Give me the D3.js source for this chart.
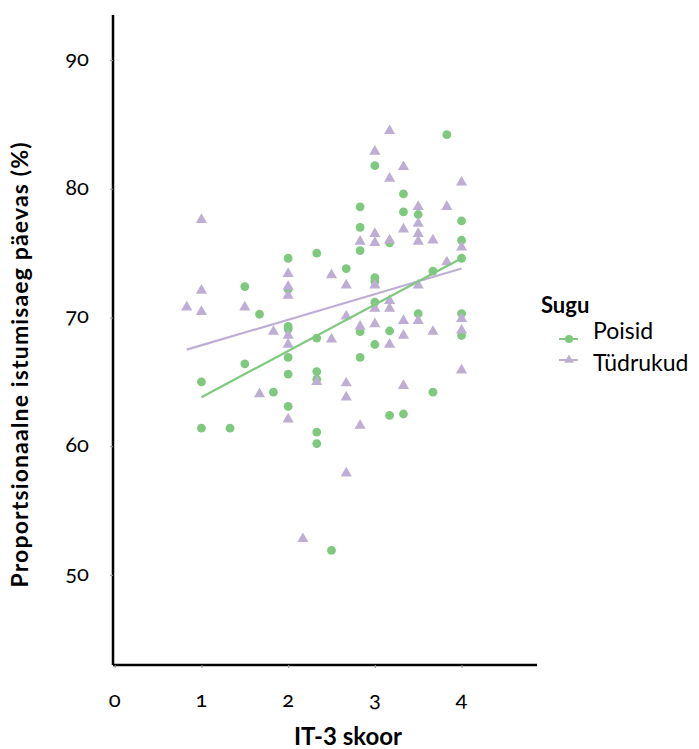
<!DOCTYPE html>
<html lang="et">
<head>
<meta charset="UTF-8">
<title>IT-3 skoor</title>
<script src="https://d3js.org/d3.v7.min.js"></script>
<style>
  body { margin: 0; background: #fff; }
  svg text { font-family: Lato, "Open Sans", sans-serif; fill: #000; }
  .tick-num { font-variant-numeric: oldstyle-nums; font-feature-settings: "onum" 1; }
</style>
</head>
<body>
<svg id="chart" width="699" height="749"></svg>
<script>
// IT-3 skoor (x) vs proportsionaalne istumisaeg (%)
const poisidX = [1, 1, 1.33, 1.5, 1.5, 1.67, 1.83,
  2, 2, 2, 2, 2, 2, 2,
  2.33, 2.33, 2.33, 2.33, 2.33, 2.33, 2.5, 2.67,
  2.83, 2.83, 2.83, 2.83, 2.83,
  3, 3, 3, 3, 3, 3.17, 3.17, 3.17, 3.33, 3.33, 3.33,
  3.5, 3.5, 3.67, 3.67, 3.83, 4, 4, 4, 4, 4];
const poisidY = [65.0, 61.4, 61.4, 72.4, 66.4, 70.25, 64.2,
  74.6, 72.2, 69.3, 69.1, 66.9, 65.6, 63.1,
  75.0, 68.4, 65.8, 65.2, 61.1, 60.2, 51.9, 73.8,
  78.6, 77.0, 75.2, 68.9, 66.9,
  81.8, 73.1, 72.8, 71.2, 67.9, 75.8, 68.95, 62.4, 79.6, 78.2, 62.5,
  78.0, 70.3, 73.6, 64.2, 84.2, 77.5, 76.0, 74.6, 70.3, 68.6];

const tudrukudX = [0.83, 1, 1, 1, 1.5, 1.67, 1.83,
  2, 2, 2, 2, 2, 2, 2.17, 2.33, 2.5, 2.5,
  2.67, 2.67, 2.67, 2.67, 2.67, 2.83, 2.83, 2.83,
  3, 3, 3, 3, 3, 3, 3.17, 3.17, 3.17, 3.17, 3.17, 3.17,
  3.33, 3.33, 3.33, 3.33, 3.33, 3.5, 3.5, 3.5, 3.5, 3.5, 3.5,
  3.67, 3.67, 3.83, 3.83, 4, 4, 4, 4, 4];
const tudrukudY = [70.8, 77.6, 72.1, 70.45, 70.8, 64.05, 68.9,
  73.4, 72.4, 71.7, 68.6, 67.9, 62.1, 52.8, 65.0, 73.3, 68.3,
  72.5, 70.1, 64.9, 63.8, 57.9, 75.9, 69.3, 61.6,
  82.9, 76.5, 75.8, 72.5, 70.7, 69.5, 84.5, 80.8, 76.0, 71.3, 70.7, 67.9,
  81.7, 76.85, 69.75, 68.6, 64.7, 78.6, 77.3, 76.5, 75.9, 72.5, 69.75,
  76.0, 68.9, 78.6, 74.3, 80.5, 75.45, 69.9, 69.0, 65.9];

// linear fit ends as drawn in the picture
const fitPoisid = [[1, 63.8], [4, 74.6]];
const fitTudrukud = [[0.83, 67.5], [4, 73.8]];

const xTicks = [0, 1, 2, 3, 4];
const yTicks = [50, 60, 70, 80, 90];
const groups = ["Poisid", "Tüdrukud"];
const colors = ["#7fc97f", "#beaed4"];

const svg = d3.select("#chart");

const x = d3.scaleLinear().domain([-0.02, 4.87]).range([113, 537]);
const y = d3.scaleLinear().domain([43, 93.5]).range([665, 15]);

// points
const poisid = poisidX.map((d, i) => [d, poisidY[i]]);
const tudrukud = tudrukudX.map((d, i) => [d, tudrukudY[i]]);

svg.append("g").selectAll("circle")
  .data(poisid)
  .join("circle")
  .attr("cx", d => x(d[0]))
  .attr("cy", d => y(d[1]))
  .attr("r", 4.4)
  .attr("fill", colors[0]);

const tri = d3.symbol().type(d3.symbolTriangle).size(54);
svg.append("g").selectAll("path")
  .data(tudrukud)
  .join("path")
  .attr("d", tri)
  .attr("transform", d => `translate(${x(d[0])},${y(d[1])})`)
  .attr("fill", colors[1]);

// fitted lines
const line = d3.line().x(d => x(d[0])).y(d => y(d[1]));
svg.append("path").datum(fitTudrukud)
  .attr("d", line).attr("fill", "none")
  .attr("stroke", colors[1]).attr("stroke-width", 2.2);
svg.append("path").datum(fitPoisid)
  .attr("d", line).attr("fill", "none")
  .attr("stroke", colors[0]).attr("stroke-width", 2.2);

// axes
const xAxis = d3.axisBottom(x).tickValues(xTicks).tickSize(3).tickFormat("");
const yAxis = d3.axisLeft(y).tickValues(yTicks).tickSize(3).tickFormat("");

const gx = svg.append("g").attr("transform", "translate(0,665)").call(xAxis);
gx.select(".domain").attr("stroke", "#000").attr("stroke-width", 2.5).attr("d", "M113,0H537");
gx.selectAll(".tick line").attr("stroke", "#999");

const gy = svg.append("g").attr("transform", "translate(113,0)").call(yAxis);
gy.select(".domain").attr("stroke", "#000").attr("stroke-width", 2.5).attr("d", "M0,15V665");
gy.selectAll(".tick line").attr("stroke", "#999");

// tick labels
svg.append("g").selectAll("text")
  .data(xTicks)
  .join("text")
  .attr("class", "tick-num")
  .attr("x", d => x(d))
  .attr("y", 707)
  .attr("text-anchor", "middle")
  .attr("font-size", 22)
  .text(d => d);

svg.append("g").selectAll("text")
  .data(yTicks)
  .join("text")
  .attr("class", "tick-num")
  .attr("x", 89)
  .attr("y", d => y(d) + 6)
  .attr("text-anchor", "end")
  .attr("font-size", 22)
  .text(d => d);

// axis titles
svg.append("text")
  .attr("x", 348)
  .attr("y", 745)
  .attr("text-anchor", "middle")
  .attr("font-size", 24)
  .attr("font-weight", "bold")
  .text("IT-3 skoor");

svg.append("text")
  .attr("transform", "translate(28,365) rotate(-90)")
  .attr("text-anchor", "middle")
  .attr("font-size", 23)
  .attr("font-weight", "bold")
  .attr("textLength", 445)
  .attr("lengthAdjust", "spacing")
  .text("Proportsionaalne istumisaeg päevas (%)");

// legend
const legend = svg.append("g");
legend.append("text")
  .attr("x", 541).attr("y", 313)
  .attr("font-size", 22).attr("font-weight", "bold")
  .text("Sugu");

const keyY = [339, 360];
const labelY = [339, 371];
groups.forEach((g, i) => {
  legend.append("line")
    .attr("x1", 559).attr("x2", 578)
    .attr("y1", keyY[i]).attr("y2", keyY[i])
    .attr("stroke", colors[i]).attr("stroke-width", 2);
  if (i === 0) {
    legend.append("circle").attr("cx", 569).attr("cy", keyY[i]).attr("r", 4).attr("fill", colors[i]);
  } else {
    legend.append("path").attr("d", d3.symbol().type(d3.symbolTriangle).size(40))
      .attr("transform", `translate(569,${keyY[i]})`).attr("fill", colors[i]);
  }
  legend.append("text")
    .attr("x", 593).attr("y", labelY[i])
    .attr("font-size", 23)
    .text(g);
});
</script>
</body>
</html>
